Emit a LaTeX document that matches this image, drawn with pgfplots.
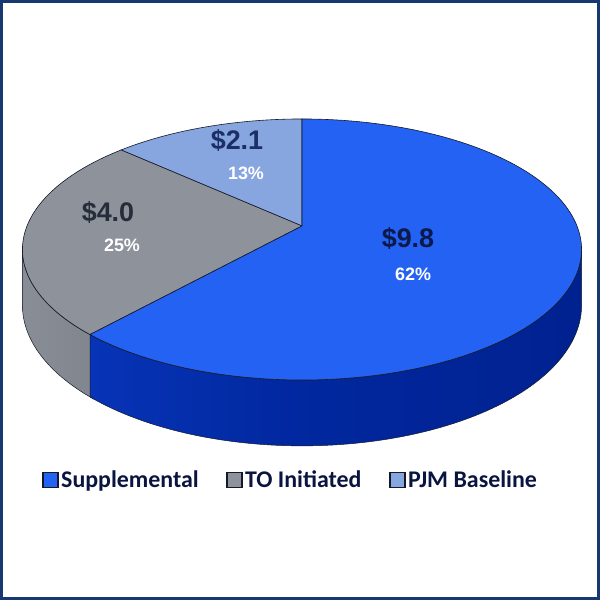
\documentclass[border=0pt]{standalone}
\usepackage{pgfplots}
\pgfplotsset{compat=1.18}
\usepackage{fontspec}
\setmainfont{Liberation Sans}
\newfontfamily\carlito{Carlito}
\definecolor{topblue}{RGB}{36,98,244}
\definecolor{topgrey}{RGB}{141,146,155}
\definecolor{toplight}{RGB}{135,166,224}
\definecolor{bsL}{RGB}{14,66,210}
\definecolor{bsM}{RGB}{1,40,160}
\definecolor{bsR}{RGB}{0,28,130}
\definecolor{gsL}{RGB}{142,146,154}
\definecolor{gsR}{RGB}{124,128,136}
\definecolor{edge}{RGB}{20,24,40}
\definecolor{lab1}{RGB}{11,26,74}
\definecolor{lab2}{RGB}{38,44,58}
\definecolor{lab3}{RGB}{27,47,102}
\definecolor{legtext}{RGB}{10,20,64}
\definecolor{bordercol}{RGB}{22,58,109}
\pgfdeclarehorizontalshading{bluesideshade}{100bp}{color(0bp)=(bsL); color(45bp)=(bsM); color(100bp)=(bsR)}
\pgfdeclarehorizontalshading{greysideshade}{100bp}{color(0bp)=(gsL); color(100bp)=(gsR)}
\begin{document}
% values
\def\vSup{9.8}\def\vTO{4.0}\def\vPJM{2.1}%
\pgfmathsetmacro\tot{\vSup+\vTO+\vPJM}%
\pgfmathsetmacro\aA{90}%
\pgfmathsetmacro\aB{90+360*\vPJM/\tot}%
\pgfmathsetmacro\aC{\aB+360*\vTO/\tot}%
\pgfmathsetmacro\aCx{\aC+1.5}%
\pgfmathsetmacro\aD{450}%
\pgfmathsetmacro\aL{180+asin(0.18)}%
\pgfmathsetmacro\aR{360-asin(0.18)}%
\begin{tikzpicture}
\begin{axis}[
  at={(0,0)}, anchor=south west,
  width=600bp, height=600bp, scale only axis,
  xmin=0, xmax=600, ymin=0, ymax=600,
  hide axis,
  declare function={
    pw(\q)=1+0.18*sin(\q);
    px(\q)=302+275*cos(\q)/pw(\q);
    py(\q)=374+126.3*sin(\q)/pw(\q);
    pb(\q)=py(\q)-54/pw(\q);
    sth(\s,\a,\b)=\a+(\b-\a)*(1-abs(1-\s));
    sx(\s,\a,\b)=px(sth(\s,\a,\b));
    sy(\s,\a,\b)=ifthenelse(\s>1.004, pb(sth(\s,\a,\b)), py(sth(\s,\a,\b)));
  },
  legend image code/.code={\draw[#1, line width=1.5bp] (0bp,-7.5bp) rectangle (15bp,7.5bp);},
  legend style={at={(axis cs:42,120)}, anchor=west, draw=none, fill=none,
    legend columns=3, font=\carlito\bfseries\fontsize{24}{28}\selectfont,
    text=legtext, inner sep=0pt,
    /tikz/every even column/.append style={column sep=25bp},
    nodes={inner sep=2.5bp}},
  legend cell align=left,
]
\coordinate (bl) at (rel axis cs:0,0);
\coordinate (tr) at (rel axis cs:1,1);
% side walls
\addplot[forget plot, shading=greysideshade, draw=edge, line width=0.5bp, domain=0:2, samples=161, variable=\s]
  ({sx(\s,\aL,\aCx)},{sy(\s,\aL,\aCx)}) -- cycle;
\addplot[forget plot, shading=bluesideshade, draw=edge, line width=0.5bp, domain=0:2, samples=241, variable=\s]
  ({sx(\s,\aC,\aR)},{sy(\s,\aC,\aR)}) -- cycle;
% top slices
\addplot[forget plot, fill=toplight, draw=edge, line width=0.6bp, domain=\aA:\aB, samples=60, variable=\q]
  ({px(\q)},{py(\q)}) -- (axis cs:302,374) -- cycle;
\addplot[forget plot, fill=topgrey, draw=edge, line width=0.6bp, domain=\aB:\aC, samples=80, variable=\q]
  ({px(\q)},{py(\q)}) -- (axis cs:302,374) -- cycle;
\addplot[forget plot, fill=topblue, draw=edge, line width=0.6bp, domain=\aC:\aD, samples=160, variable=\q]
  ({px(\q)},{py(\q)}) -- (axis cs:302,374) -- cycle;
% labels
\node[text=lab1, font=\bfseries\fontsize{27}{30}\selectfont] at (axis cs:408,361) {\$9.8};
\node[text=white, font=\bfseries\fontsize{18}{21}\selectfont] at (axis cs:413,326) {62\%};
\node[text=lab2, font=\bfseries\fontsize{27}{30}\selectfont] at (axis cs:108,387) {\$4.0};
\node[text=white, font=\bfseries\fontsize{18}{21}\selectfont] at (axis cs:122,355) {25\%};
\node[text=lab3, font=\bfseries\fontsize{27}{30}\selectfont] at (axis cs:237,459) {\$2.1};
\node[text=white, font=\bfseries\fontsize{18}{21}\selectfont] at (axis cs:246,427) {13\%};
% legend
\addlegendimage{fill=topblue, draw=edge}
\addlegendentry{Supplemental}
\addlegendimage{fill=topgrey, draw=edge}
\addlegendentry{TO Initiated}
\addlegendimage{fill=toplight, draw=edge}
\addlegendentry{PJM Baseline}
% frame
\draw[bordercol, line width=2.6bp] (axis cs:1.3,1.3) rectangle (axis cs:598.7,598.7);
\end{axis}
\pgfresetboundingbox
\useasboundingbox (bl) rectangle (tr);
\end{tikzpicture}
\end{document}
